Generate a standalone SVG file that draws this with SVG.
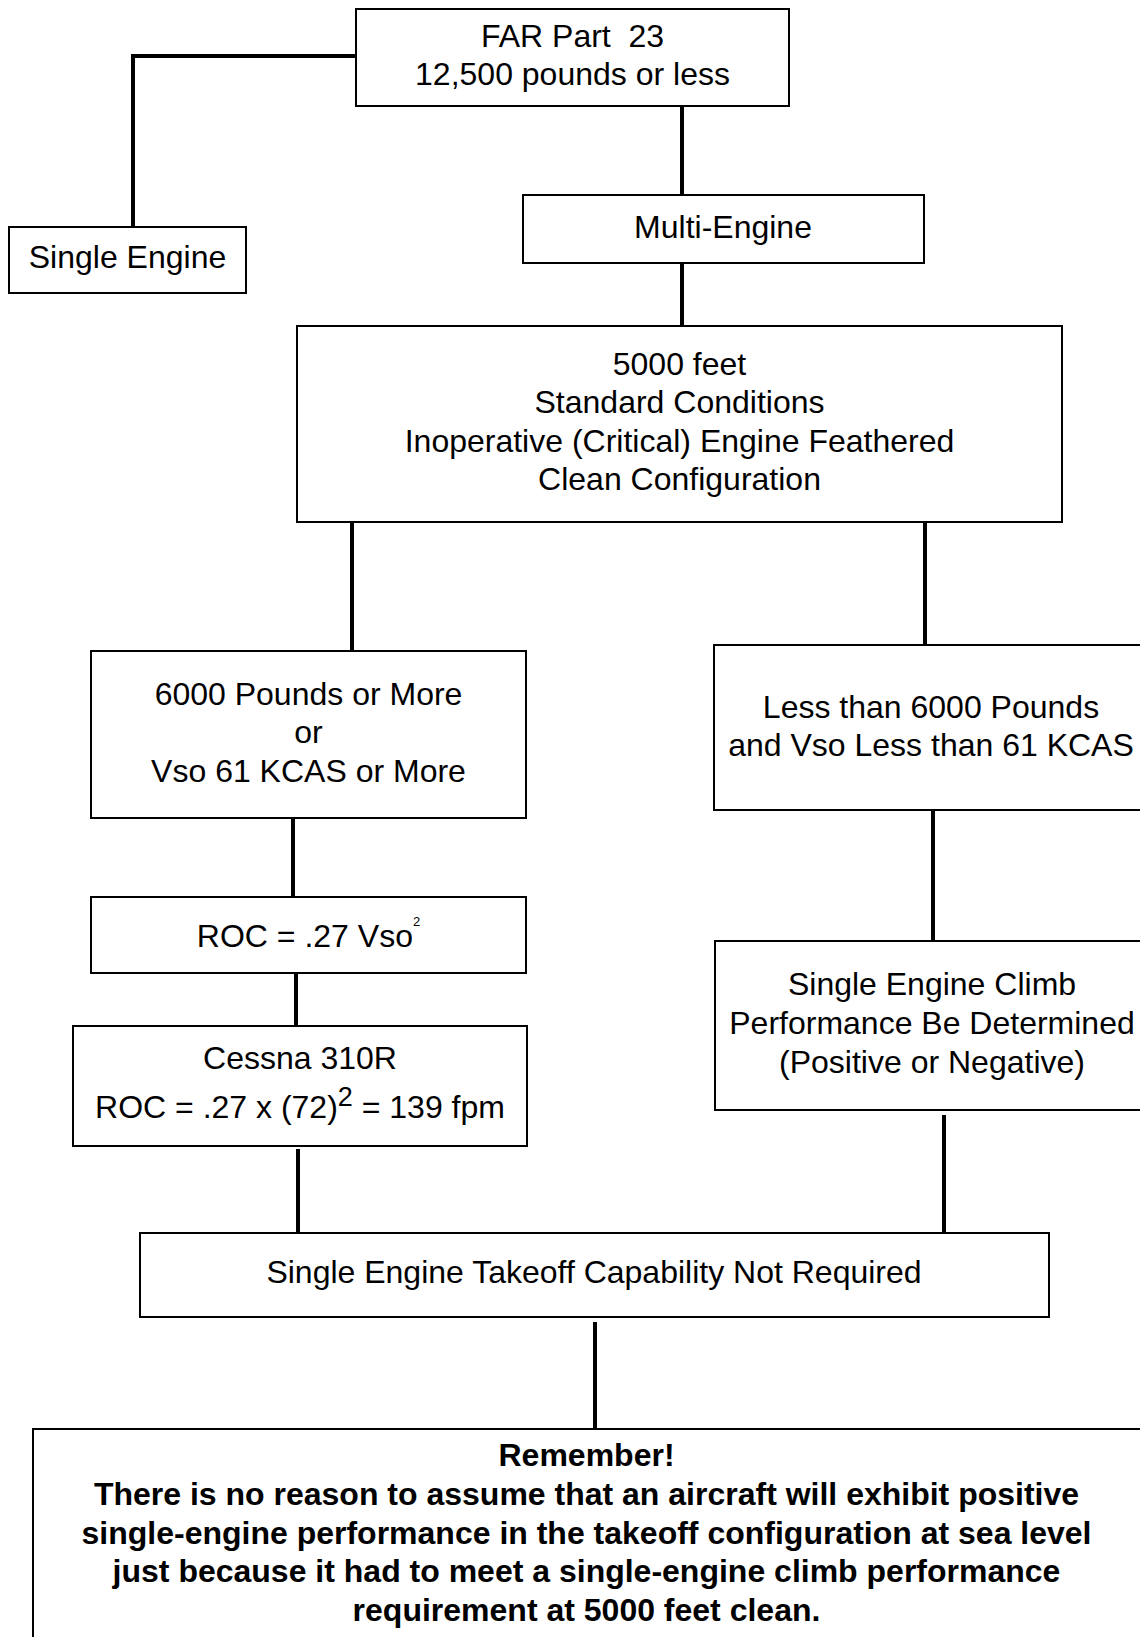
<svg xmlns="http://www.w3.org/2000/svg" width="1140" height="1637" viewBox="0 0 1140 1637">
<style>
.box{fill:#fff;stroke:#000;stroke-width:2}
.t{font-family:"Liberation Sans",Arial,sans-serif;font-size:32px;fill:#000;text-anchor:middle}
.b{font-weight:bold}
.c{fill:none;stroke:#000;stroke-width:4;stroke-linecap:butt;stroke-linejoin:miter}
</style>
<rect width="1140" height="1637" fill="#fff"/>
<g id="connectors">
<polyline class="c" points="356,56 133,56 133,227"/>
<line class="c" x1="682" y1="106" x2="682" y2="195"/>
<line class="c" x1="682" y1="263" x2="682" y2="326"/>
<line class="c" x1="352" y1="522" x2="352" y2="651"/>
<line class="c" x1="925" y1="522" x2="925" y2="644"/>
<line class="c" x1="293" y1="818" x2="293" y2="897"/>
<line class="c" x1="296" y1="973" x2="296" y2="1026"/>
<line class="c" x1="933" y1="810" x2="933" y2="941"/>
<line class="c" x1="298" y1="1149" x2="298" y2="1233"/>
<line class="c" x1="944" y1="1115" x2="944" y2="1233"/>
<line class="c" x1="595" y1="1322" x2="595" y2="1429"/>
</g>
<g id="far">
<rect class="box" x="356" y="9" width="433" height="97"/>
<text class="t" x="572.5" y="46.5">FAR Part&#160; 23</text>
<text class="t" x="572.5" y="85">12,500 pounds or less</text>
</g>
<g id="single">
<rect class="box" x="9" y="227" width="237" height="66"/>
<text class="t" x="127.5" y="268">Single Engine</text>
</g>
<g id="multi">
<rect class="box" x="523" y="195" width="401" height="68"/>
<text class="t" x="723" y="238">Multi-Engine</text>
</g>
<g id="conditions">
<rect class="box" x="297" y="326" width="765" height="196"/>
<text class="t" x="679.5" y="375">5000 feet</text>
<text class="t" x="679.5" y="413">Standard Conditions</text>
<text class="t" x="679.5" y="451.5">Inoperative (Critical) Engine Feathered</text>
<text class="t" x="679.5" y="490">Clean Configuration</text>
</g>
<g id="heavy">
<rect class="box" x="91" y="651" width="435" height="167"/>
<text class="t" x="308.5" y="705">6000 Pounds or More</text>
<text class="t" x="308.5" y="743">or</text>
<text class="t" x="308.5" y="782">Vso 61 KCAS or More</text>
</g>
<g id="light">
<rect class="box" x="714" y="645" width="440" height="165"/>
<text class="t" x="931" y="717.5">Less than 6000 Pounds</text>
<text class="t" x="931" y="755.5">and Vso Less than 61 KCAS</text>
</g>
<g id="roc">
<rect class="box" x="91" y="897" width="435" height="76"/>
<text class="t" x="308.5" y="947">ROC = .27 Vso<tspan font-size="13" dy="-21">2</tspan></text>
</g>
<g id="cessna">
<rect class="box" x="73" y="1026" width="454" height="120"/>
<text class="t" x="300" y="1069">Cessna 310R</text>
<text class="t" x="300" y="1118">ROC = .27 x (72)<tspan font-size="27" dy="-12">2</tspan><tspan dy="12"> = 139 fpm</tspan></text>
</g>
<g id="climb">
<rect class="box" x="715" y="941" width="440" height="169"/>
<text class="t" x="932" y="995">Single Engine Climb</text>
<text class="t" x="932" y="1034">Performance Be Determined</text>
<text class="t" x="932" y="1072.5">(Positive or Negative)</text>
</g>
<g id="takeoff">
<rect class="box" x="140" y="1233" width="909" height="84"/>
<text class="t" x="594" y="1283">Single Engine Takeoff Capability Not Required</text>
</g>
<g id="remember">
<rect class="box" x="33" y="1429" width="1120" height="230"/>
<text class="t b" x="586.5" y="1466">Remember!</text>
<text class="t b" x="586.5" y="1505">There is no reason to assume that an aircraft will exhibit positive</text>
<text class="t b" x="586.5" y="1544">single-engine performance in the takeoff configuration at sea level</text>
<text class="t b" x="586.5" y="1582">just because it had to meet a single-engine climb performance</text>
<text class="t b" x="586.5" y="1620.5">requirement at 5000 feet clean.</text>
</g>
</svg>
